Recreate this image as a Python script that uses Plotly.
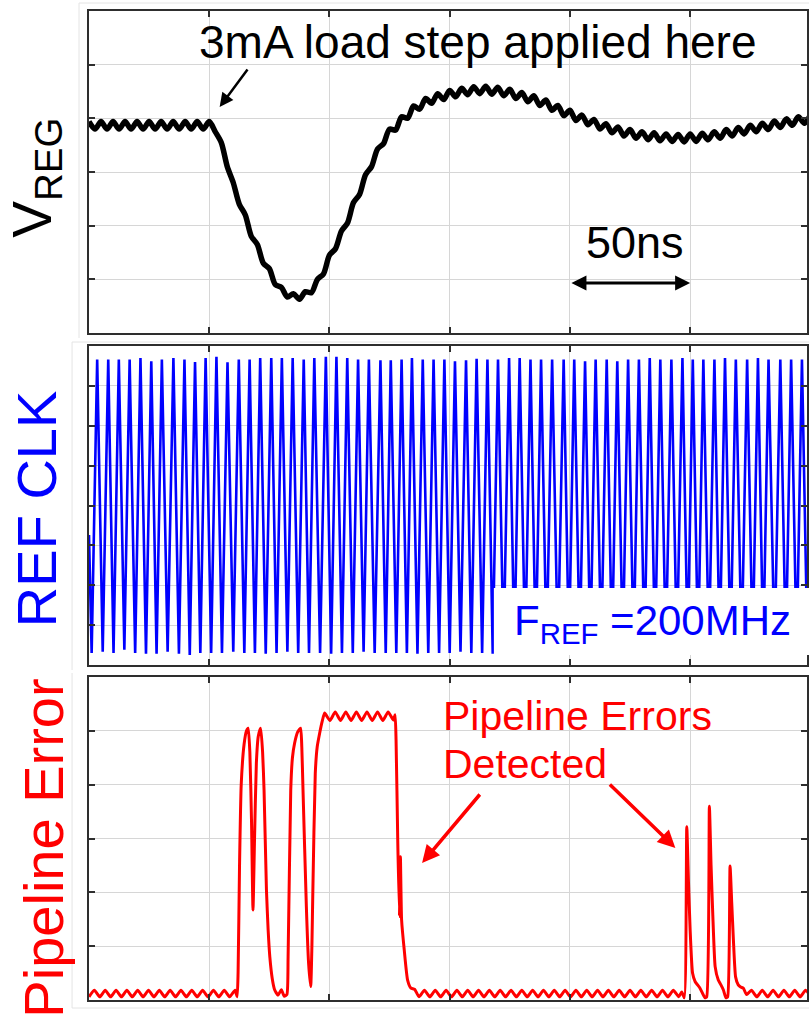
import plotly.graph_objects as go

W, H = 809, 1019
L = 89
PW = W - L
FONT = "Liberation Sans, Arial, sans-serif"

# ---------------- data ----------------
# VREG trace in grid divisions (0..6), one sample every 2.5 ns
vreg_step_ns = 2.5
vreg = [
    3.94, 3.80, 3.94, 3.80, 3.94, 3.80, 3.94, 3.80, 3.94, 3.80,
    3.94, 3.80, 3.94, 3.80, 3.94, 3.80, 3.94, 3.80, 3.94, 3.80,
    3.94, 3.75, 3.55, 3.10, 2.80, 2.40, 2.20, 1.80, 1.65, 1.30,
    1.20, 0.90, 0.85, 0.67, 0.73, 0.63, 0.77, 0.75, 1.00, 1.10,
    1.45, 1.57, 1.90, 2.05, 2.43, 2.58, 2.95, 3.10, 3.43, 3.53,
    3.80, 3.78, 4.03, 4.00, 4.23, 4.17, 4.37, 4.28, 4.46, 4.35,
    4.52, 4.40, 4.56, 4.44, 4.59, 4.46, 4.60, 4.45, 4.58, 4.42,
    4.54, 4.37, 4.48, 4.31, 4.42, 4.24, 4.34, 4.15, 4.24, 4.05,
    4.15, 3.96, 4.06, 3.88, 3.98, 3.80, 3.90, 3.73, 3.84, 3.67,
    3.79, 3.63, 3.75, 3.60, 3.73, 3.58, 3.71, 3.57, 3.70, 3.56,
    3.71, 3.57, 3.72, 3.60, 3.75, 3.63, 3.79, 3.67, 3.83, 3.71,
    3.87, 3.75, 3.91, 3.79, 3.95, 3.83, 3.99, 3.87, 4.03, 3.91,
    4.06,
]
vreg_t = [i * vreg_step_ns for i in range(len(vreg))]

# REF CLK (divisions 0..8): start point, peaks and troughs (ns)
clk_start_t = 0.0
clk_start_v = 3.26
clk_peak_t = [
    3.4, 8.0, 12.4, 16.9, 21.4, 25.9, 30.3, 35.1, 39.7, 44.1,
    48.5, 53.0, 57.6, 62.3, 66.8, 71.2, 75.8, 80.2, 84.7, 89.3,
    93.7, 98.5, 102.9, 107.4, 111.9, 116.4, 121.2, 125.5, 130.0, 134.3,
    138.8, 143.3, 147.8, 152.2, 156.8, 161.2, 165.7, 170.1, 174.7, 179.1,
    183.6, 188.0, 192.6, 197.4, 201.8, 206.3, 210.7, 215.3, 219.7, 224.2,
    228.7, 233.2, 237.6, 242.2, 246.8, 251.1, 255.5, 260.1, 264.5, 269.0,
    273.7, 278.2, 282.6, 287.5, 292.0, 296.5,
]
clk_peak_v = [
    7.66, 7.66, 7.66, 7.66, 7.70, 7.62, 7.66, 7.70, 7.66, 7.60,
    7.70, 7.73, 7.59, 7.66, 7.66, 7.70, 7.70, 7.70, 7.70, 7.66,
    7.70, 7.73, 7.73, 7.70, 7.66, 7.66, 7.64, 7.64, 7.66, 7.70,
    7.66, 7.66, 7.66, 7.62, 7.64, 7.68, 7.66, 7.66, 7.70, 7.70,
    7.66, 7.66, 7.66, 7.66, 7.66, 7.62, 7.66, 7.66, 7.62, 7.66,
    7.66, 7.70, 7.66, 7.66, 7.70, 7.66, 7.66, 7.66, 7.70, 7.66,
    7.66, 7.70, 7.66, 7.66, 7.66, 7.66,
]
clk_trough_t = [
    1.1, 5.7, 10.2, 14.7, 19.2, 23.7, 28.1, 32.7, 37.4, 41.9,
    46.3, 50.8, 55.3, 60.0, 64.6, 69.0, 73.5, 78.0, 82.5, 87.0,
    91.5, 96.1, 100.7, 105.2, 109.7, 114.2, 118.8, 123.4, 127.8, 132.2,
    136.6, 141.1, 145.6, 150.0, 154.5, 159.0, 163.5, 167.9, 172.4, 176.9,
    181.4, 185.8, 190.3, 195.0, 199.6, 204.1, 208.5, 213.0, 217.5, 222.0,
    226.5, 231.0, 235.4, 239.9, 244.5, 249.0, 253.3, 257.8, 262.3, 266.8,
    271.4, 276.0, 280.4, 285.1, 289.8, 294.3, 298.8,
]
clk_trough_v = [
    0.30, 0.33, 0.30, 0.38, 0.30, 0.28, 0.28, 0.33, 0.28, 0.25,
    0.30, 0.30, 0.30, 0.33, 0.30, 0.30, 0.28, 0.30, 0.33, 0.30,
    0.30, 0.30, 0.28, 0.30, 0.30, 0.33, 0.30, 0.30, 0.30, 0.30,
    0.28, 0.30, 0.30, 0.30, 0.33, 0.30, 0.30, 0.28, 0.30, 0.30,
    0.30, 0.30, 0.30, 0.30, 0.30, 0.30, 0.30, 0.30, 0.30, 0.30,
    0.30, 0.30, 0.30, 0.30, 0.30, 0.30, 0.30, 0.30, 0.30, 0.30,
    0.30, 0.30, 0.30, 0.30, 0.30, 0.30, 0.30,
]

# Pipeline Error trace (divisions 0..6)
pipe_t = [
    0, 2.25, 4.5, 6.75, 9, 11.25, 13.5, 15.75, 18, 20.25,
    22.5, 24.75, 27, 29.25, 31.5, 33.75, 36, 38.25, 40.5, 42.75,
    45, 47.25, 49.5, 51.75, 54, 56.25, 58.5, 60.75,
    61.6, 62.0, 62.6, 63.3, 64.5, 65.5, 66.2, 66.9, 67.6, 68.2,
    68.8, 69.6, 70.4, 71.4, 72.2, 72.8, 73.8, 74.5, 75.2, 76.2,
    77.2, 78.6, 80.0, 81.2, 82.3, 82.8, 83.9, 84.6, 85.5, 86.8,
    88.0, 88.5, 89.0, 90.4, 91.3, 92.2, 92.7, 93.1, 94.1, 94.9,
    95.9, 97.0, 98.0,
    100.2, 102.4, 104.6, 106.8, 109.0, 111.2, 113.4, 115.6, 117.8, 120.0,
    122.2, 124.4, 126.6, 127.3,
    127.7, 128.4, 129.1, 129.5, 130.0, 131.1, 132.5, 133.9, 135.4,
    137.25, 139.5, 141.75, 144, 146.25, 148.5, 150.75, 153, 155.25, 157.5,
    159.75, 162, 164.25, 166.5, 168.75, 171, 173.25, 175.5, 177.75, 180,
    182.25, 184.5, 186.75, 189, 191.25, 193.5, 195.75, 198, 200.25, 202.5,
    204.75, 207, 209.25, 211.5, 213.75, 216, 218.25, 220.5, 222.75, 225,
    227.25, 229.5, 231.75, 234, 236.25, 238.5, 240.75, 243, 245.25,
    246.5, 247.6,
    248.6, 249.3, 250.0, 251.0, 252.1, 253.1, 254.1, 255.2, 256.2,
    256.9, 258.0, 258.7, 259.4, 260.4, 261.7, 262.8, 263.8, 264.9,
    265.6, 266.6, 267.3, 268.0, 268.9, 270.0, 271.0, 272.1, 273.5,
    275.5, 277.75, 280, 282.25, 284.5, 286.75, 289, 291.25, 293.5, 295.75, 298, 300.25,
]
pipe_v = [
    0.06, 0.18, 0.06, 0.18, 0.06, 0.18, 0.06, 0.18, 0.06, 0.18,
    0.06, 0.18, 0.06, 0.18, 0.06, 0.18, 0.06, 0.18, 0.06, 0.18,
    0.06, 0.18, 0.06, 0.18, 0.06, 0.18, 0.06, 0.18,
    0.06, 0.5, 2.5, 4.0, 4.75, 5.0, 5.05, 4.6, 3.29, 1.67,
    2.9, 4.40, 4.9, 5.05, 4.6, 3.90, 2.04, 1.3, 0.80, 0.40,
    0.19, 0.09, 0.19, 0.07, 0.10, 0.80, 3.90, 4.5, 4.77, 4.98,
    5.05, 4.7, 3.90, 1.73, 0.7, 0.25, 1.0, 2.04, 4.21, 4.7,
    4.95, 5.18, 5.33,
    5.19, 5.35, 5.19, 5.35, 5.19, 5.35, 5.19, 5.35, 5.19, 5.35,
    5.19, 5.35, 5.20, 5.30,
    4.83, 2.97, 1.55, 2.66, 1.49, 0.93, 0.37, 0.22, 0.20,
    0.06, 0.18, 0.06, 0.18, 0.06, 0.18, 0.06, 0.18, 0.06, 0.18,
    0.06, 0.18, 0.06, 0.18, 0.06, 0.18, 0.06, 0.18, 0.06, 0.18,
    0.06, 0.18, 0.06, 0.18, 0.06, 0.18, 0.06, 0.18, 0.06, 0.18,
    0.06, 0.18, 0.06, 0.18, 0.06, 0.18, 0.06, 0.18, 0.06, 0.18,
    0.06, 0.18, 0.06, 0.18, 0.06, 0.18, 0.06, 0.18, 0.06,
    0.15, 0.04,
    3.22, 2.2, 1.30, 0.50, 0.34, 0.28, 0.22, 0.12, 0.04,
    0.06, 3.60, 2.5, 1.61, 0.62, 0.37, 0.28, 0.19, 0.04,
    0.06, 2.49, 1.8, 1.11, 0.43, 0.28, 0.24, 0.22, 0.10,
    0.18, 0.06, 0.18, 0.06, 0.18, 0.06, 0.18, 0.06, 0.18, 0.06, 0.18, 0.06,
]
assert len(pipe_t) == len(pipe_v), (len(pipe_t), len(pipe_v))

# ---------------- build clock polyline ----------------
clk_t = [clk_start_t]
clk_v = [clk_start_v]
for i in range(len(clk_peak_t)):
    clk_t += [clk_trough_t[i], clk_peak_t[i]]
    clk_v += [clk_trough_v[i], clk_peak_v[i]]
clk_t.append(clk_trough_t[-1])
clk_v.append(clk_trough_v[-1])

# ---------------- figure ----------------
def px(x):
    return (x - L) / PW


def py(y):
    return 1 - y / H


def ydom(top, bottom):
    return [1 - bottom / H, 1 - top / H]


XR = [0, 298.6]
AX_LINE = "#2e2e2e"
GRID = "#d6d6d6"

fig = go.Figure()
fig.add_trace(go.Scatter(x=vreg_t, y=vreg, mode="lines", xaxis="x", yaxis="y",
                         line=dict(color="black", width=5.5, shape="spline", smoothing=0.8),
                         hoverinfo="skip", showlegend=False))
fig.add_trace(go.Scatter(x=clk_t, y=clk_v, mode="lines", xaxis="x2", yaxis="y2",
                         line=dict(color="#0000ff", width=2.6),
                         hoverinfo="skip", showlegend=False))
fig.add_trace(go.Scatter(x=pipe_t, y=pipe_v, mode="lines", xaxis="x3", yaxis="y3",
                         line=dict(color="#ff0000", width=3, shape="spline", smoothing=0.5),
                         hoverinfo="skip", showlegend=False))


def xax(anchor):
    return dict(domain=[0, 1], anchor=anchor, range=XR, dtick=50, tick0=0,
                showticklabels=False, showgrid=True, gridcolor=GRID, gridwidth=1,
                showline=True, linecolor=AX_LINE, linewidth=2, mirror="ticks",
                ticks="inside", ticklen=6, tickwidth=2, tickcolor=AX_LINE,
                zeroline=False, fixedrange=True)


def yax(anchor, dom, top):
    return dict(domain=dom, anchor=anchor, range=[0, top], dtick=1, tick0=0,
                showticklabels=False, showgrid=True, gridcolor=GRID, gridwidth=1,
                showline=True, linecolor=AX_LINE, linewidth=2, mirror="ticks",
                ticks="inside", ticklen=6, tickwidth=2, tickcolor=AX_LINE,
                zeroline=False, fixedrange=True)


annotations = [
    dict(text="3mA load step applied here", xref="paper", yref="paper",
         x=px(479.5), y=py(42.4), xanchor="center", yanchor="middle",
         showarrow=False, font=dict(family=FONT, size=46, color="black")),
    dict(text="", xref="paper", yref="paper", x=px(220), y=py(107),
         ax=29, ay=-39, showarrow=True, arrowhead=2, arrowsize=1.1,
         arrowwidth=2.5, arrowcolor="black", standoff=0),
    dict(text="50ns", xref="paper", yref="paper", x=px(636.5), y=py(242.7),
         xanchor="center", yanchor="middle", showarrow=False,
         font=dict(family=FONT, size=45, color="black")),
    dict(text="", xref="x", yref="y", x=250, y=0.93, ax=200, ay=0.93,
         axref="x", ayref="y", showarrow=True, arrowhead=2, arrowside="end+start",
         arrowsize=1.0, arrowwidth=3, arrowcolor="black", standoff=0, startstandoff=0),
    dict(text="V<sub>REG</sub>", xref="paper", yref="paper", x=px(35), y=py(177.5),
         xanchor="center", yanchor="middle", textangle=-90, showarrow=False,
         font=dict(family=FONT, size=55, color="black")),
    dict(text="REF CLK", xref="paper", yref="paper", x=px(36), y=py(509),
         xanchor="center", yanchor="middle", textangle=-90, showarrow=False,
         font=dict(family=FONT, size=56, color="#0000ff")),
    dict(text="F<sub>REF</sub> =200MHz", xref="paper", yref="paper", x=px(513), y=py(623),
         xanchor="left", yanchor="middle", showarrow=False,
         font=dict(family=FONT, size=42, color="#0000ff")),
    dict(text="Pipeline Error", xref="paper", yref="paper", x=px(43), y=py(848.5),
         xanchor="center", yanchor="middle", textangle=-90, showarrow=False,
         font=dict(family=FONT, size=56, color="#ff0000")),
    dict(text="Pipeline Errors", xref="paper", yref="paper", x=px(442), y=py(715.8),
         xanchor="left", yanchor="middle", showarrow=False,
         font=dict(family=FONT, size=41, color="#ff0000")),
    dict(text="Detected", xref="paper", yref="paper", x=px(442), y=py(763.8),
         xanchor="left", yanchor="middle", showarrow=False,
         font=dict(family=FONT, size=41, color="#ff0000")),
    dict(text="", xref="paper", yref="paper", x=px(423), y=py(863),
         ax=59, ay=-70, showarrow=True, arrowhead=2, arrowsize=1.0,
         arrowwidth=3.5, arrowcolor="#ff0000", standoff=0),
    dict(text="", xref="paper", yref="paper", x=px(677), y=py(848),
         ax=-67, ay=-65, showarrow=True, arrowhead=2, arrowsize=1.0,
         arrowwidth=3.5, arrowcolor="#ff0000", standoff=0),
]

FRAME = "#e4e4e4"
shapes = [
    # white label box over the clock trace
    dict(type="rect", xref="paper", yref="paper", x0=px(495), x1=px(815),
         y0=py(655), y1=py(588), fillcolor="white", line=dict(width=0), layer="above"),
    # faint outer frames of the three sub-figures
    dict(type="line", xref="paper", yref="paper", x0=px(79), x1=px(79), y0=py(3), y1=py(338),
         line=dict(color=FRAME, width=1), layer="below"),
    dict(type="line", xref="paper", yref="paper", x0=px(79), x1=px(812), y0=py(3), y1=py(3),
         line=dict(color=FRAME, width=1), layer="below"),
    dict(type="line", xref="paper", yref="paper", x0=px(72), x1=px(72), y0=py(342), y1=py(670),
         line=dict(color=FRAME, width=1), layer="below"),
    dict(type="line", xref="paper", yref="paper", x0=px(72), x1=px(812), y0=py(342), y1=py(342),
         line=dict(color=FRAME, width=1), layer="below"),
    dict(type="line", xref="paper", yref="paper", x0=px(72), x1=px(72), y0=py(673), y1=py(1008),
         line=dict(color=FRAME, width=1), layer="below"),
    dict(type="line", xref="paper", yref="paper", x0=px(72), x1=px(812), y0=py(1008), y1=py(1008),
         line=dict(color=FRAME, width=1), layer="below"),
]

fig.update_layout(
    width=W, height=H,
    margin=dict(l=L, r=0, t=0, b=0, pad=0),
    paper_bgcolor="white", plot_bgcolor="white",
    showlegend=False,
    xaxis=xax("y"), yaxis=yax("x", ydom(11, 333), 6),
    xaxis2=xax("y2"), yaxis2=yax("x2", ydom(346, 665), 8),
    xaxis3=xax("y3"), yaxis3=yax("x3", ydom(677, 1000), 6),
    annotations=annotations,
    shapes=shapes,
)

fig.write_html("out.html", config={"displayModeBar": False})
